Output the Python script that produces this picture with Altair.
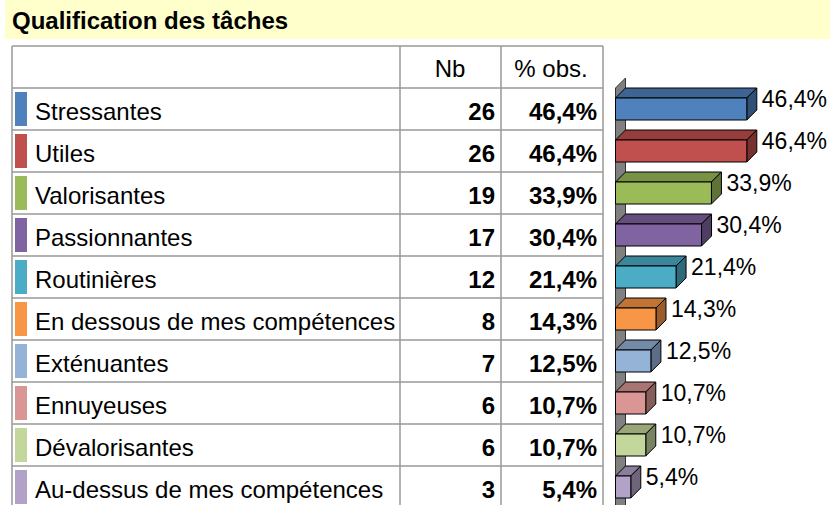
import altair as alt
import pandas as pd

# ---------------- data ----------------
categories = ["Stressantes", "Utiles", "Valorisantes", "Passionnantes", "Routinières",
              "En dessous de mes compétences", "Exténuantes", "Ennuyeuses",
              "Dévalorisantes", "Au-dessus de mes compétences"]
nb_values = [26, 26, 19, 17, 12, 8, 7, 6, 6, 3]
pct_values = [46.4, 46.4, 33.9, 30.4, 21.4, 14.3, 12.5, 10.7, 10.7, 5.4]
pct_labels = ["46,4%", "46,4%", "33,9%", "30,4%", "21,4%", "14,3%", "12,5%", "10,7%", "10,7%", "5,4%"]
colors = ["#4F81BD", "#C0504D", "#9BBB59", "#8064A2", "#4BACC6",
          "#F79646", "#95B3D7", "#D99694", "#C3D69B", "#B3A2C7"]
title_text = "Qualification des tâches"
headers = ["Nb", "% obs."]

# ---------------- style constants ----------------
FONT = "Liberation Sans"
ROW_PX = 42.0          # row height in pixels
TOP_PX = 88.0          # pixel of first data row top
W, H = 830, 505
PX_PER_PCT = 2.83
ORIGIN_PX = 615.5
DEPTH_PX = 10.0
DX = DEPTH_PX / PX_PER_PCT     # depth in % units
DY = DEPTH_PX / ROW_PX         # depth in row units
F0 = 10 / ROW_PX               # front face top within row
F1 = 32 / ROW_PX               # front face bottom within row
FS = 24                        # table font size


def shade(hexcol, f):
    h = hexcol.lstrip("#")
    r, g, b = (int(h[i:i + 2], 16) for i in (0, 2, 4))
    return "#%02x%02x%02x" % (int(r * f), int(g * f), int(b * f))


ydom = [-TOP_PX / ROW_PX, (H - TOP_PX) / ROW_PX]
xdom = [-ORIGIN_PX / PX_PER_PCT, (W - ORIGIN_PX) / PX_PER_PCT]
YS = alt.Scale(domain=ydom, reverse=True, nice=False, zero=False)
XS = alt.Scale(domain=xdom, nice=False, zero=False)

rows = list(range(len(categories)))
tops = [shade(c, 0.78) for c in colors]
sides = [shade(c, 0.62) for c in colors]

df = pd.DataFrame({
    "cat": categories,
    "nb": nb_values,
    "pct": pct_values,
    "lab": pct_labels,
    "front": colors,
    "row": rows,
})
df["f0"] = df["row"] + F0
df["f1"] = df["row"] + F1
df["sw0"] = df["row"] + 4 / ROW_PX
df["sw1"] = df["row"] + 38 / ROW_PX
df["zero"] = 0.0
df["vend"] = df["pct"] + DX
df["txty"] = df["row"] + 32 / ROW_PX
df["laby"] = df["row"] + 19 / ROW_PX

top_rows, side_rows = [], []
for c, i, v, tc, sc in zip(categories, rows, pct_values, tops, sides):
    top_rows.append({"name": c, "y": i + F0, "x": 0.0, "x2": v, "col": tc})
    top_rows.append({"name": c, "y": i + F0 - DY, "x": DX, "x2": v + DX, "col": tc})
    side_rows.append({"name": c, "x": v, "y": i + F0, "y2": i + F1, "col": sc})
    side_rows.append({"name": c, "x": v + DX, "y": i + F0 - DY, "y2": i + F1 - DY, "col": sc})
top_df = pd.DataFrame(top_rows)
side_df = pd.DataFrame(side_rows)

wall_df = pd.DataFrame({"x": [0.0, DX], "y": [0.0, -DY], "y2": [ydom[1] + 1, ydom[1] + 1]})

line_df = pd.DataFrame({"row": list(range(-1, len(categories)))})
one = pd.DataFrame({"t": [title_text]})
hdr_y = -1 + 30.7 / ROW_PX

# ---------------- layers ----------------
title_bg = alt.Chart(one).mark_rect(fill="#FFFFCC").encode(
    x=alt.value(5), x2=alt.value(W), y=alt.value(0), y2=alt.value(39))
title = alt.Chart(one).mark_text(font=FONT, fontSize=24, fontWeight="bold", align="left",
                                 baseline="alphabetic", color="black").encode(
    x=alt.value(12), y=alt.value(29), text="t:N")

hlines = alt.Chart(line_df).mark_rule(color="#999999", strokeWidth=1.5).encode(
    x=alt.value(12), x2=alt.value(603), y=alt.Y("row:Q", scale=YS, axis=None))
vlines = [alt.Chart(one).mark_rule(color="#999999", strokeWidth=1.5).encode(
    x=alt.value(xp), y=alt.value(46), y2=alt.value(H)) for xp in (12, 400, 501, 603)]

swatch = alt.Chart(df).mark_rect().encode(
    x=alt.value(15), x2=alt.value(27),
    y=alt.Y("sw0:Q", scale=YS, axis=None), y2="sw1:Q",
    color=alt.Color("front:N", scale=None, legend=None))

labels = alt.Chart(df).mark_text(font=FONT, fontSize=FS, align="left", baseline="alphabetic",
                                 color="black").encode(
    x=alt.value(35), y=alt.Y("txty:Q", scale=YS, axis=None), text="cat:N")
nbt = alt.Chart(df).mark_text(font=FONT, fontSize=FS, fontWeight="bold", align="right",
                              baseline="alphabetic", color="black").encode(
    x=alt.value(495), y=alt.Y("txty:Q", scale=YS, axis=None), text="nb:Q")
pctt = alt.Chart(df).mark_text(font=FONT, fontSize=FS, fontWeight="bold", align="right",
                               baseline="alphabetic", color="black").encode(
    x=alt.value(597), y=alt.Y("txty:Q", scale=YS, axis=None), text="lab:N")
hdrs = [alt.Chart(pd.DataFrame({"h": [h], "row": [hdr_y]})).mark_text(
    font=FONT, fontSize=FS, align="center", baseline="alphabetic", color="black").encode(
    x=alt.value(xc), y=alt.Y("row:Q", scale=YS, axis=None), text="h:N")
    for h, xc in zip(headers, (450, 551))]

wall = alt.Chart(wall_df).mark_area(orient="vertical", fill="#808080", stroke="#333333",
                                    strokeWidth=1).encode(
    x=alt.X("x:Q", scale=XS, axis=None),
    y=alt.Y("y:Q", scale=YS, axis=None, stack=None), y2="y2:Q")

front = alt.Chart(df).mark_rect(stroke="black", strokeWidth=1).encode(
    x=alt.X("zero:Q", scale=XS, axis=None), x2="pct:Q",
    y=alt.Y("f0:Q", scale=YS, axis=None), y2="f1:Q",
    color=alt.Color("front:N", scale=None, legend=None))

topf = alt.Chart(top_df).mark_area(orient="horizontal", stroke="black", strokeWidth=1).encode(
    y=alt.Y("y:Q", scale=YS, axis=None),
    x=alt.X("x:Q", scale=XS, axis=None, stack=None), x2="x2:Q",
    detail="name:N",
    color=alt.Color("col:N", scale=None, legend=None))

sidef = alt.Chart(side_df).mark_area(orient="vertical", stroke="black", strokeWidth=1).encode(
    x=alt.X("x:Q", scale=XS, axis=None),
    y=alt.Y("y:Q", scale=YS, axis=None, stack=None), y2="y2:Q",
    detail="name:N",
    color=alt.Color("col:N", scale=None, legend=None))

barlab = alt.Chart(df).mark_text(font=FONT, fontSize=23, align="left", baseline="alphabetic",
                                 dx=5, color="black").encode(
    x=alt.X("vend:Q", scale=XS, axis=None),
    y=alt.Y("laby:Q", scale=YS, axis=None), text="lab:N")

chart = alt.layer(
    title_bg, title, hlines, *vlines, swatch, labels, nbt, pctt, *hdrs,
    wall, topf, sidef, front, barlab
).properties(width=W, height=H, padding=0, autosize="none", background="white"
).configure_view(strokeWidth=0)

chart.save("out.html", embed_options={"renderer": "svg", "actions": False})
